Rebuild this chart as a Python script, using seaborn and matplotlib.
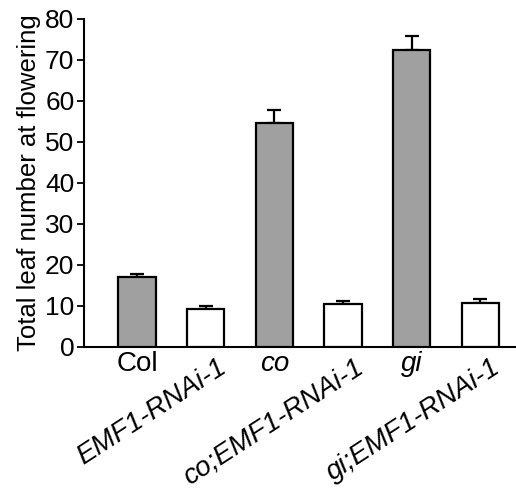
import matplotlib
matplotlib.use("Agg")
import matplotlib.pyplot as plt
import matplotlib.transforms as mtransforms
import seaborn as sns
import pandas as pd

genotypes = ["Col", "EMF1-RNAi-1", "co", "co;EMF1-RNAi-1", "gi", "gi;EMF1-RNAi-1"]
leaf_number = [17.1, 9.3, 54.7, 10.5, 72.3, 10.8]
leaf_err = [0.7, 0.7, 3.1, 0.6, 3.6, 0.8]
bar_colors = ["#a0a0a0", "#ffffff", "#a0a0a0", "#ffffff", "#a0a0a0", "#ffffff"]
italic_labels = [False, True, True, True, True, True]
rotated_labels = [False, True, False, True, False, True]

sns.set_theme(style="ticks")
plt.rcParams["font.family"] = ["Liberation Sans", "DejaVu Sans"]
plt.rcParams["text.color"] = "black"
plt.rcParams["axes.labelcolor"] = "black"
plt.rcParams["xtick.color"] = "black"
plt.rcParams["ytick.color"] = "black"
plt.rcParams["axes.edgecolor"] = "black"

df = pd.DataFrame({"genotype": genotypes, "leaves": leaf_number})

fig = plt.figure(figsize=(5.16, 4.95), dpi=100)
ax = fig.add_axes([0.163, 0.299, 0.837, 0.663])

sns.barplot(data=df, x="genotype", y="leaves", hue="genotype",
            palette=bar_colors, width=0.54, edgecolor="black",
            linewidth=1.6, legend=False, ax=ax, zorder=3)

ax.errorbar(range(len(genotypes)), leaf_number,
            yerr=[[0] * len(leaf_err), leaf_err], fmt="none",
            ecolor="black", elinewidth=1.6, capsize=5, capthick=1.6, zorder=2)

ax.set_ylim(0, 80)
ax.set_xlim(-0.77, 5.52)
ax.set_yticks(range(0, 81, 10))
ax.tick_params(axis="y", labelsize=19, length=5, width=1.3, pad=2)
ax.tick_params(axis="x", length=0, pad=3)
ax.set_ylabel("Total leaf number at flowering", fontsize=18.5, labelpad=3)
ax.set_xlabel("")
for side in ["left", "bottom"]:
    ax.spines[side].set_linewidth(1.5)
sns.despine(ax=ax)

ax.set_xticks(range(len(genotypes)))
ax.set_xticklabels(genotypes, fontsize=20)
shift = mtransforms.ScaledTranslation(0.11, -0.03, fig.dpi_scale_trans)
for lab, ital, rot in zip(ax.get_xticklabels(), italic_labels, rotated_labels):
    if ital:
        lab.set_fontstyle("italic")
    if rot:
        lab.set_rotation(33)
        lab.set_ha("right")
        lab.set_rotation_mode("anchor")
        lab.set_transform(lab.get_transform() + shift)

fig.savefig("out.png", dpi=100)
